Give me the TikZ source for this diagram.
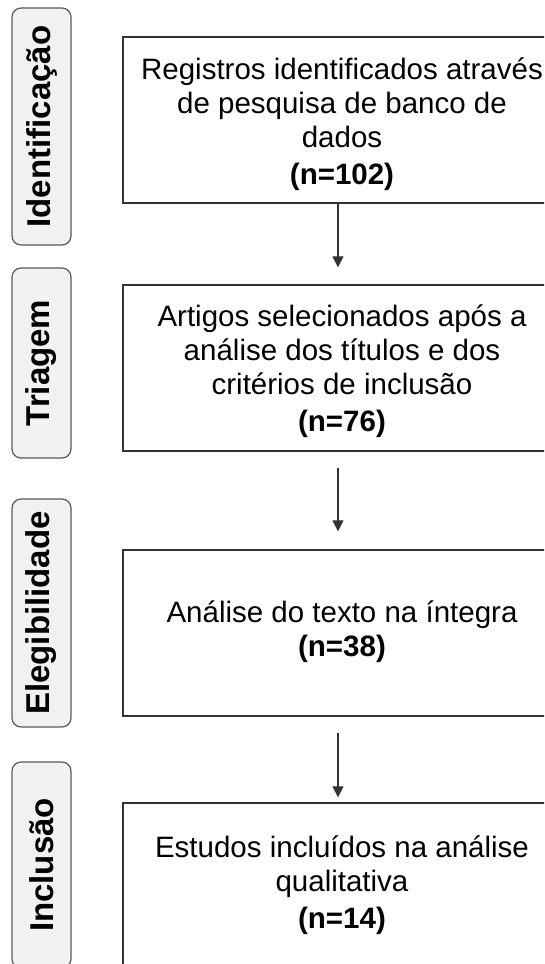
\documentclass[tikz,border=0pt]{standalone}
\usepackage{fontspec}
\setmainfont{Liberation Sans}
\usetikzlibrary{arrows.meta}
\definecolor{lblfill}{HTML}{F1F1F1}
\definecolor{lbldraw}{HTML}{5A5A5A}
\definecolor{boxdraw}{HTML}{333333}
\newcommand{\boxtext}[2]{\raisebox{#1}[\height][\depth]{\begin{tabular}{@{}c@{}}#2\end{tabular}}}
\begin{document}
\begin{tikzpicture}[x=1pt,y=-1pt,
 mainbox/.style={draw=boxdraw,line width=1.3pt,minimum width=438pt,minimum height=166pt,font=\fontsize{29.5}{34}\selectfont,inner sep=0pt},
 lbl/.style={draw=lbldraw,fill=lblfill,line width=1.2pt,rounded corners=9pt,rotate=90,minimum height=59pt,font=\fontsize{33}{36}\selectfont\bfseries,inner sep=0pt},
 arr/.style={draw=boxdraw,line width=1.2pt,-{Triangle[length=11pt,width=11pt]}}]
\useasboundingbox (0,0) rectangle (544,964);
\clip (0,0) rectangle (544,964);
\fill[white] (0,0) rectangle (544,964);
% stage labels
\node[lbl,minimum width=237pt] (l1) at (41.5,126.5) {Identificação};
\node[lbl,minimum width=190pt] (l2) at (41.5,363) {Triagem};
\node[lbl,minimum width=228pt] (l3) at (41.5,613) {Elegibilidade};
\node[lbl,minimum width=206pt] (l4) at (41.5,865) {Inclusão};
% main boxes
\node[mainbox] (b1) at (342,120) {\boxtext{-5pt}{Registros identificados através\\de pesquisa de banco de\\dados\\[3pt]\textbf{(n=102)}}};
\node[mainbox] (b2) at (342,368) {\boxtext{-4pt}{Artigos selecionados após a\\análise dos títulos e dos\\critérios de inclusão\\[3pt]\textbf{(n=76)}}};
\node[mainbox] (b3) at (342,633) {\boxtext{0pt}{Análise do texto na íntegra\\\textbf{(n=38)}}};
\node[mainbox] (b4) at (342,886) {\boxtext{0pt}{Estudos incluídos na análise\\qualitativa\\[3pt]\textbf{(n=14)}}};
% connectors
\draw[arr,shorten >=17pt] ([xshift=-4pt]b1.south) -- ([xshift=-4pt]b2.north);
\draw[arr,shorten <=16pt,shorten >=18pt] ([xshift=-4pt]b2.south) -- ([xshift=-4pt]b3.north);
\draw[arr,shorten <=16pt,shorten >=5pt] ([xshift=-4pt]b3.south) -- ([xshift=-4pt]b4.north);
\end{tikzpicture}
\end{document}
